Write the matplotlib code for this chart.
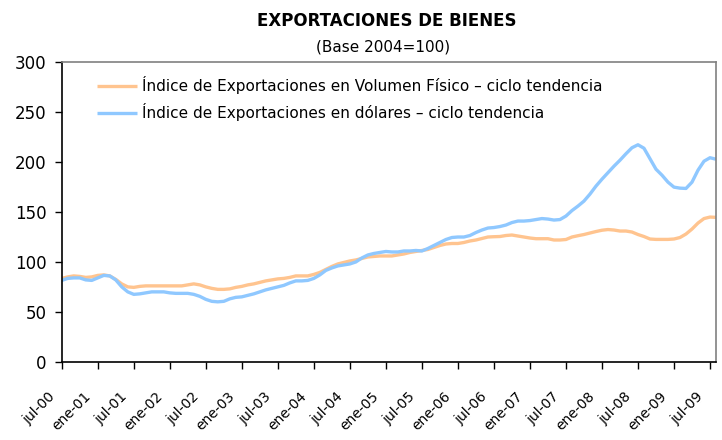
import matplotlib
matplotlib.use("Agg")
import matplotlib.pyplot as plt
import matplotlib.transforms as mtransforms
import numpy as np

# Monthly data, jul-00 .. ago-09
volumen = [83.5, 85, 86, 85.5, 84.5, 85, 86.5, 87, 86, 82.5,
           78, 75, 74.5, 75.5, 76, 76, 76, 76, 76, 76,
           76, 77, 78, 77, 75, 73.5, 72.5, 72.5, 73, 74.5,
           75.5, 77, 78, 79.5, 81, 82, 83, 83.5, 84.5, 86,
           86, 86, 87.5, 89.5, 92.5, 95.5, 98, 99.5, 101, 102,
           103.5, 105, 105.5, 106, 106, 106, 107, 108, 109.5, 110.5,
           111.5, 112.5, 114.5, 116.5, 118, 118.5, 118.5, 119.5, 121, 122,
           123.5, 125, 125.3, 125.5, 126.5, 127, 126, 125, 124, 123.3,
           123.3, 123.3, 122, 122, 122.5, 125, 126.3, 127.5, 129, 130.5,
           131.8, 132.5, 132, 131, 131, 130, 127.5, 125.5, 123, 122.6,
           122.6, 122.6, 123, 124.5, 128, 133, 139, 143.5, 145, 144.7]

dolares = [81.5, 83.5, 84, 84, 82, 81.5, 84, 86.5, 86, 82,
           75, 70, 67.5, 68, 69, 70, 70, 70, 69, 68.5,
           68.5, 68.5, 67.5, 65.5, 62.5, 60.5, 60, 60.5, 63, 64.5,
           65, 66.5, 68, 70, 72, 73.5, 75, 76.5, 79, 81,
           81, 81.5, 83.5, 87, 91.5, 94, 96, 97, 98, 100,
           104, 107, 108.5, 109.5, 110.5, 110, 110, 111, 111, 111.5,
           111, 113.5, 116.5, 119.5, 122.5, 124.5, 125, 125, 126.5, 129.5,
           132, 134, 134.5, 135.5, 137, 139.5, 141, 141, 141.5, 142.5,
           143.5, 143, 142, 142.5, 146, 151.5, 156, 161, 168, 176,
           183, 189.5, 196, 202, 208.5, 214.5, 217.5, 214, 203.5, 193,
           187, 180, 175, 174, 173.7, 180, 192, 201, 204.5, 203]

tick_labels = ["jul-00", "ene-01", "jul-01", "ene-02", "jul-02", "ene-03",
               "jul-03", "ene-04", "jul-04", "ene-05", "jul-05", "ene-06",
               "jul-06", "ene-07", "jul-07", "ene-08", "jul-08", "ene-09",
               "jul-09"]

label_vol = "Índice de Exportaciones en Volumen Físico – ciclo tendencia"
label_usd = "Índice de Exportaciones en dólares – ciclo tendencia"

plt.rcParams['font.family'] = ['DejaVu Sans']

fig = plt.figure(figsize=(7.22, 4.40), dpi=100)
ax = fig.add_axes([0.0855, 0.178, 0.9062, 0.680])

x = np.arange(len(volumen))
ax.plot(x, volumen, color='#FFC48F', lw=2.4, label=label_vol, solid_capstyle='butt')
ax.plot(x, dolares, color='#8FC8FF', lw=2.4, label=label_usd, solid_capstyle='butt')

ax.set_xlim(0, len(volumen) - 1)
ax.set_ylim(0, 300)
ax.set_yticks(np.arange(0, 301, 50))
ax.set_xticks(np.arange(0, 6 * len(tick_labels), 6))
ax.set_xticklabels(tick_labels, rotation=45, ha='right', va='center',
                   rotation_mode='anchor', fontsize=10)
ax.tick_params(axis='x', direction='out', length=5, width=1, pad=20)
ax.tick_params(axis='y', direction='out', length=5, width=1, labelsize=12, pad=6)

offset = mtransforms.ScaledTranslation(-9 / 100, 2 / 100, fig.dpi_scale_trans)
for lab in ax.get_xticklabels():
    lab.set_transform(lab.get_transform() + offset)

for s in ['left', 'bottom']:
    ax.spines[s].set_color('black')
    ax.spines[s].set_linewidth(1.2)
for s in ['top', 'right']:
    ax.spines[s].set_color('#808080')
    ax.spines[s].set_linewidth(1.2)

leg = ax.legend(loc='upper left', bbox_to_anchor=(0.045, 0.975), frameon=False,
                fontsize=11, handlelength=2.6, handletextpad=0.3, labelspacing=0.6,
                borderaxespad=0)

fig.text(0.535, 0.953, "EXPORTACIONES DE BIENES", ha='center', va='center',
         fontsize=12, fontweight='bold')
fig.text(0.53, 0.893, "(Base 2004=100)", ha='center', va='center', fontsize=11)

fig.savefig("out.png", dpi=100)
